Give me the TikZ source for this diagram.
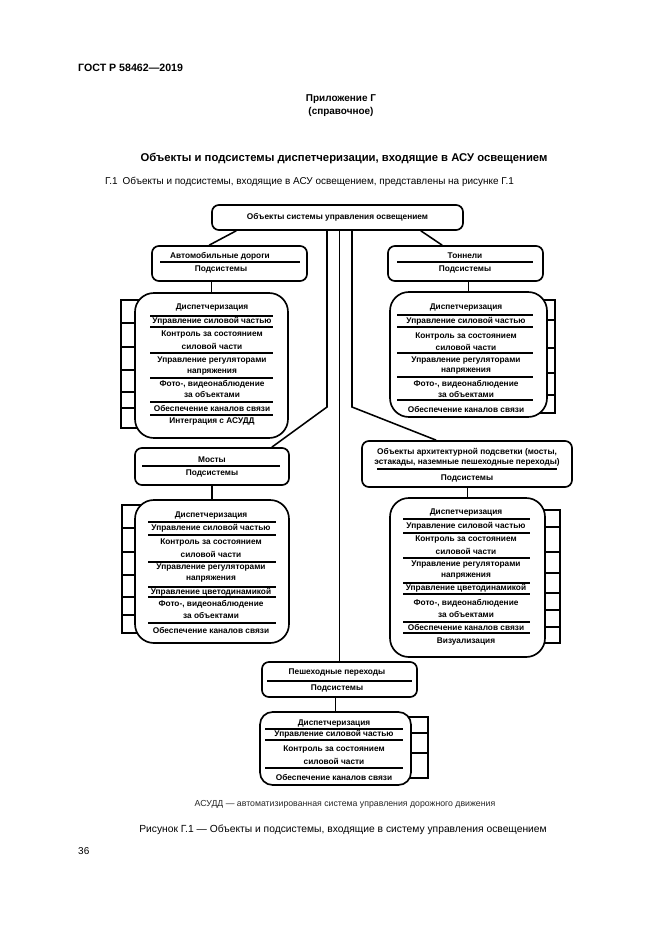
\documentclass[tikz,border=0pt]{standalone}
\usepackage{fontspec}
\setmainfont{Liberation Sans}
\usetikzlibrary{calc}
\newlength\pix
\setlength\pix{0.3177mm}

\tikzset{
  hdrbox/.style={draw, line width=1.5pt, rounded corners=2.2mm, fill=white, inner sep=0pt},
  blkbox/.style={draw, line width=1.5pt, rounded corners=6mm, fill=white, inner sep=0pt},
  cell/.style={font=\bfseries\fontsize{7.5}{8}\selectfont, inner sep=0pt},
  rule/.style={line width=1.1pt},
  brk/.style={line width=1.2pt},
  link/.style={line width=1.4pt},
  txt/.style={inner sep=0pt, anchor=west},
}

\begin{document}
\begin{tikzpicture}[x=\pix, y=-\pix]
\useasboundingbox (0,0) rectangle (661,935);
\fill[white] (0,0) rectangle (661,935);

% page text
\node[txt, font=\bfseries\fontsize{9.6}{11}\selectfont] (gost) at (78,68) {ГОСТ Р 58462—2019};
\node[font=\bfseries\fontsize{9}{11.7}\selectfont, align=center] (app) at (341,105.5) {Приложение Г\\(справочное)};
\node[font=\bfseries\fontsize{10.2}{12}\selectfont] (title) at (344,159) {Объекты и подсистемы диспетчеризации, входящие в АСУ освещением};
\node[txt, font=\fontsize{9}{11}\selectfont] (intro) at (105,182) {Г.1\enspace Объекты и подсистемы, входящие в АСУ освещением, представлены на рисунке Г.1};

% top box
\node[hdrbox, cell, minimum width=251\pix, minimum height=25\pix] (objs) at (337.5,217.5) {Объекты системы управления освещением};

% roads
\node[hdrbox, minimum width=155\pix, minimum height=35\pix] (road) at (229.5,263.5) {};
\node[cell] (roadt) at (220,256) {Автомобильные дороги};
\draw[rule] (160,262) -- (300,262);
\node[cell] (roads) at (221,269) {Подсистемы};

% tunnels
\node[hdrbox, minimum width=155\pix, minimum height=35\pix] (tun) at (465.5,263.5) {};
\node[cell] (tunt) at (465,256) {Тоннели};
\draw[rule] (397,262) -- (533,262);
\node[cell] (tuns) at (465,269) {Подсистемы};

% bridges
\node[hdrbox, minimum width=154\pix, minimum height=37\pix] (bridge) at (212,466.5) {};
\node[cell] (bridget) at (212,460) {Мосты};
\draw[rule] (142,466) -- (280,466);
\node[cell] (bridges) at (212,473) {Подсистемы};

% architectural lighting
\node[hdrbox, minimum width=210\pix, minimum height=46\pix] (arch) at (467,464) {};
\node[cell] (archt) at (467,452) {Объекты архитектурной подсветки (мосты,};
\node[cell] (archu) at (467,462) {эстакады, наземные пешеходные переходы)};
\draw[rule] (377,469) -- (557,469);
\node[cell] (archs) at (467,478) {Подсистемы};

% crossings
\node[hdrbox, minimum width=155\pix, minimum height=35\pix] (ped) at (339.5,679.5) {};
\node[cell] (pedt) at (337,672.5) {Пешеходные переходы};
\draw[rule] (267,681) -- (412,681);
\node[cell] (peds) at (337,688) {Подсистемы};

% links from the top box
\coordinate (kl) at (327,407);
\coordinate (kr) at (352,407);
\draw[link] ($(objs.south west)+(25,0)$) -- ($(road.north west)+(58,0)$);
\draw[link] ($(objs.south east)+(-43,0)$) -- ($(tun.north west)+(55,0)$);
\draw[link] (objs.south -| kl) -- (kl) -- ($(bridge.north east)+(-18,0)$);
\draw[link] (objs.south -| kr) -- (kr) -- ($(arch.north west)+(75,0)$);
\draw[link] (objs.south -| ped.north) -- (ped.north);

% roads block
\draw[brk] (121,300) rectangle (150,428);
\foreach \yy in {323,347,370,392,408}
   \draw[brk] (121,\yy) -- (150,\yy);
\node[blkbox, minimum width=153\pix, minimum height=145\pix] (roadblk) at (211.5,365.5) {};
\foreach \yy/\lbl [count=\i] in {308/Диспетчеризация, 321/Управление силовой частью,
      335/Контроль за состоянием, 346/силовой части, 361/Управление регуляторами,
      372/напряжения, 384/{Фото-, видеонаблюдение}, 394/за объектами,
      408/Обеспечение каналов связи, 421/Интеграция с АСУДД}
   \node[cell] (ra\i) at (212,\yy) {\lbl};
\foreach \yy in {316,327,353,378,402,415}
   \draw[rule] (150,\yy) -- (273,\yy);
\draw[link] (road.south -| roadblk.north) -- (roadblk.north);

% tunnels block
\draw[brk] (530,300) rectangle (555,413);
\foreach \yy in {320,348,373,395}
   \draw[brk] (530,\yy) -- (555,\yy);
\node[blkbox, minimum width=157\pix, minimum height=125\pix] (tunblk) at (468.5,354.5) {};
\foreach \yy/\lbl [count=\i] in {308/Диспетчеризация, 321/Управление силовой частью,
      337/Контроль за состоянием, 347/силовой части, 361/Управление регуляторами,
      371/напряжения, 384/{Фото-, видеонаблюдение}, 394/за объектами,
      409/Обеспечение каналов связи}
   \node[cell] (ta\i) at (466,\yy) {\lbl};
\foreach \yy in {315,327,353,377,400}
   \draw[rule] (397,\yy) -- (533,\yy);
\draw[link] (tun.south -| tunblk.north) -- (tunblk.north);

% bridges block
\draw[brk] (122,505) rectangle (150,633);
\foreach \yy in {528,552,575,597,615}
   \draw[brk] (122,\yy) -- (150,\yy);
\node[blkbox, minimum width=154\pix, minimum height=143\pix] (bridgeblk) at (212,571.5) {};
\foreach \yy/\lbl [count=\i] in {516/Диспетчеризация, 528.5/Управление силовой частью,
      543/Контроль за состоянием, 554/силовой части, 568/Управление регуляторами,
      579/напряжения, 592/Управление цветодинамикой, 604/{Фото-, видеонаблюдение},
      615/за объектами, 630/Обеспечение каналов связи}
   \node[cell] (ba\i) at (211,\yy) {\lbl};
\foreach \yy in {522,535,562,587,597,623}
   \draw[rule] (148,\yy) -- (276,\yy);
\draw[link] (bridge.south) -- (bridgeblk.north);

% architectural block
\draw[brk] (530,510) rectangle (560,643);
\foreach \yy in {527,552,573,593,610,627}
   \draw[brk] (530,\yy) -- (560,\yy);
\node[blkbox, minimum width=155\pix, minimum height=159\pix] (archblk) at (467.5,577.5) {};
\foreach \yy/\lbl [count=\i] in {513/Диспетчеризация, 526/Управление силовой частью,
      540/Контроль за состоянием, 551/силовой части, 565/Управление регуляторами,
      576/напряжения, 588.5/Управление цветодинамикой, 603/{Фото-, видеонаблюдение},
      614/за объектами, 627.5/Обеспечение каналов связи, 641/Визуализация}
   \node[cell] (aa\i) at (466,\yy) {\lbl};
\foreach \yy in {519,533,558,583,594,622,633}
   \draw[rule] (403,\yy) -- (530,\yy);
\draw[link] (arch.south -| archblk.north) -- (archblk.north);

% crossings block
\draw[brk] (400,717) rectangle (428,778);
\foreach \yy in {733,753}
   \draw[brk] (400,\yy) -- (428,\yy);
\node[blkbox, rounded corners=4mm, minimum width=151\pix, minimum height=73\pix] (pedblk) at (335.5,748.5) {};
\foreach \yy/\lbl [count=\i] in {723/Диспетчеризация, 734.5/Управление силовой частью,
      749/Контроль за состоянием, 761/силовой части, 777/Обеспечение каналов связи}
   \node[cell] (pa\i) at (334,\yy) {\lbl};
\foreach \yy in {729,740,768}
   \draw[rule] (265,\yy) -- (403,\yy);
\draw[link] (ped.south -| pedblk.north) -- (pedblk.north);

% captions
\node[font=\fontsize{7.9}{9}\selectfont, text=black!85] (note) at (345,804) {АСУДД — автоматизированная система управления дорожного движения};
\node[font=\fontsize{9.3}{11}\selectfont] (cap) at (343,830) {Рисунок Г.1 — Объекты и подсистемы, входящие в систему управления освещением};
\node[txt, font=\fontsize{9}{11}\selectfont] (pnum) at (78,851) {36};
\end{tikzpicture}
\end{document}
